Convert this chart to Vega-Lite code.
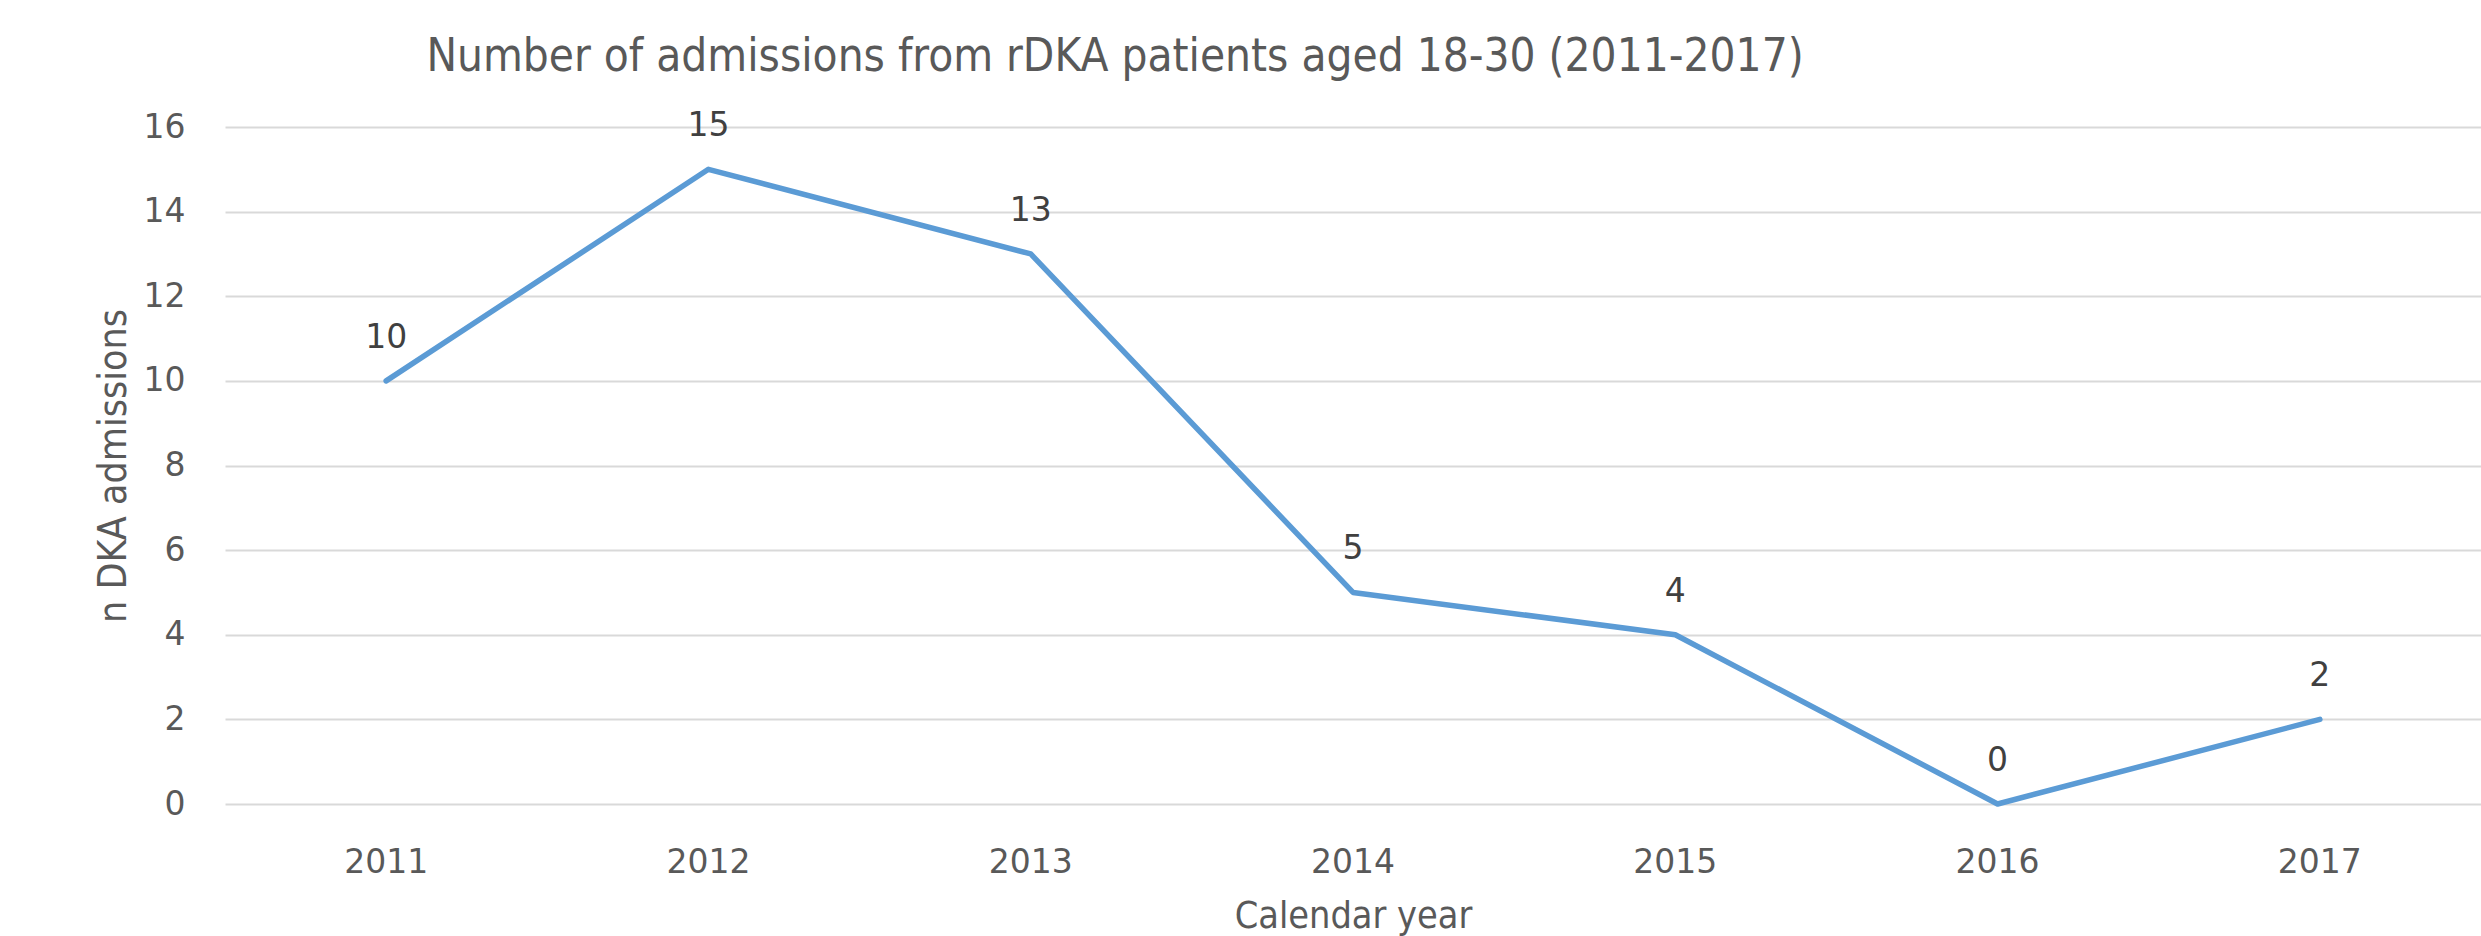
{
  "$schema": "https://vega.github.io/schema/vega-lite/v6.json",
  "autosize": {"type": "none"},
  "width": 2256,
  "height": 677,
  "padding": {"left": 225, "top": 127, "right": 0, "bottom": 132},
  "background": "white",
  "title": {
    "text": "Number of admissions from rDKA patients aged 18-30 (2011-2017)",
    "font": "DejaVu Sans Condensed",
    "fontSize": 45.5,
    "fontWeight": "normal",
    "color": "#595959",
    "anchor": "middle",
    "baseline": "alphabetic",
    "offset": -6,
    "dx": -238
  },
  "data": {
    "values": [
      {"year": "2011", "n": 10},
      {"year": "2012", "n": 15},
      {"year": "2013", "n": 13},
      {"year": "2014", "n": 5},
      {"year": "2015", "n": 4},
      {"year": "2016", "n": 0},
      {"year": "2017", "n": 2}
    ]
  },
  "encoding": {
    "x": {
      "field": "year",
      "type": "ordinal",
      "scale": {"type": "band", "paddingInner": 0, "paddingOuter": 0},
      "axis": {
        "title": "Calendar year",
        "titleFont": "DejaVu Sans Condensed",
        "titleFontSize": 37.5,
        "titleFontWeight": "normal",
        "titleColor": "#595959",
        "titlePadding": 18,
        "labelFont": "DejaVu Sans",
        "labelFontSize": 33,
        "labelColor": "#595959",
        "labelAngle": 0,
        "labelBaseline": "middle",
        "labelPadding": 58,
        "domain": false,
        "ticks": false,
        "grid": false
      }
    },
    "y": {
      "field": "n",
      "type": "quantitative",
      "scale": {"domain": [0, 16], "nice": false, "zero": true},
      "axis": {
        "values": [0, 2, 4, 6, 8, 10, 12, 14, 16],
        "title": "n DKA admissions",
        "titleFont": "DejaVu Sans Condensed",
        "titleFontSize": 39,
        "titleFontWeight": "normal",
        "titleColor": "#595959",
        "titlePadding": 10,
        "labelFont": "DejaVu Sans",
        "labelFontSize": 33,
        "labelColor": "#595959",
        "labelPadding": 40,
        "domain": false,
        "ticks": false,
        "grid": true,
        "gridColor": "#d9d9d9",
        "gridWidth": 2
      }
    }
  },
  "layer": [
    {
      "mark": {"type": "line", "color": "#5B9BD5", "strokeWidth": 5.5, "strokeCap": "round", "strokeJoin": "round"}
    },
    {
      "mark": {"type": "text", "font": "DejaVu Sans", "fontSize": 33, "color": "#404040", "baseline": "middle", "dy": -43},
      "encoding": {"text": {"field": "n", "type": "quantitative"}}
    }
  ],
  "config": {"view": {"stroke": null}}
}
